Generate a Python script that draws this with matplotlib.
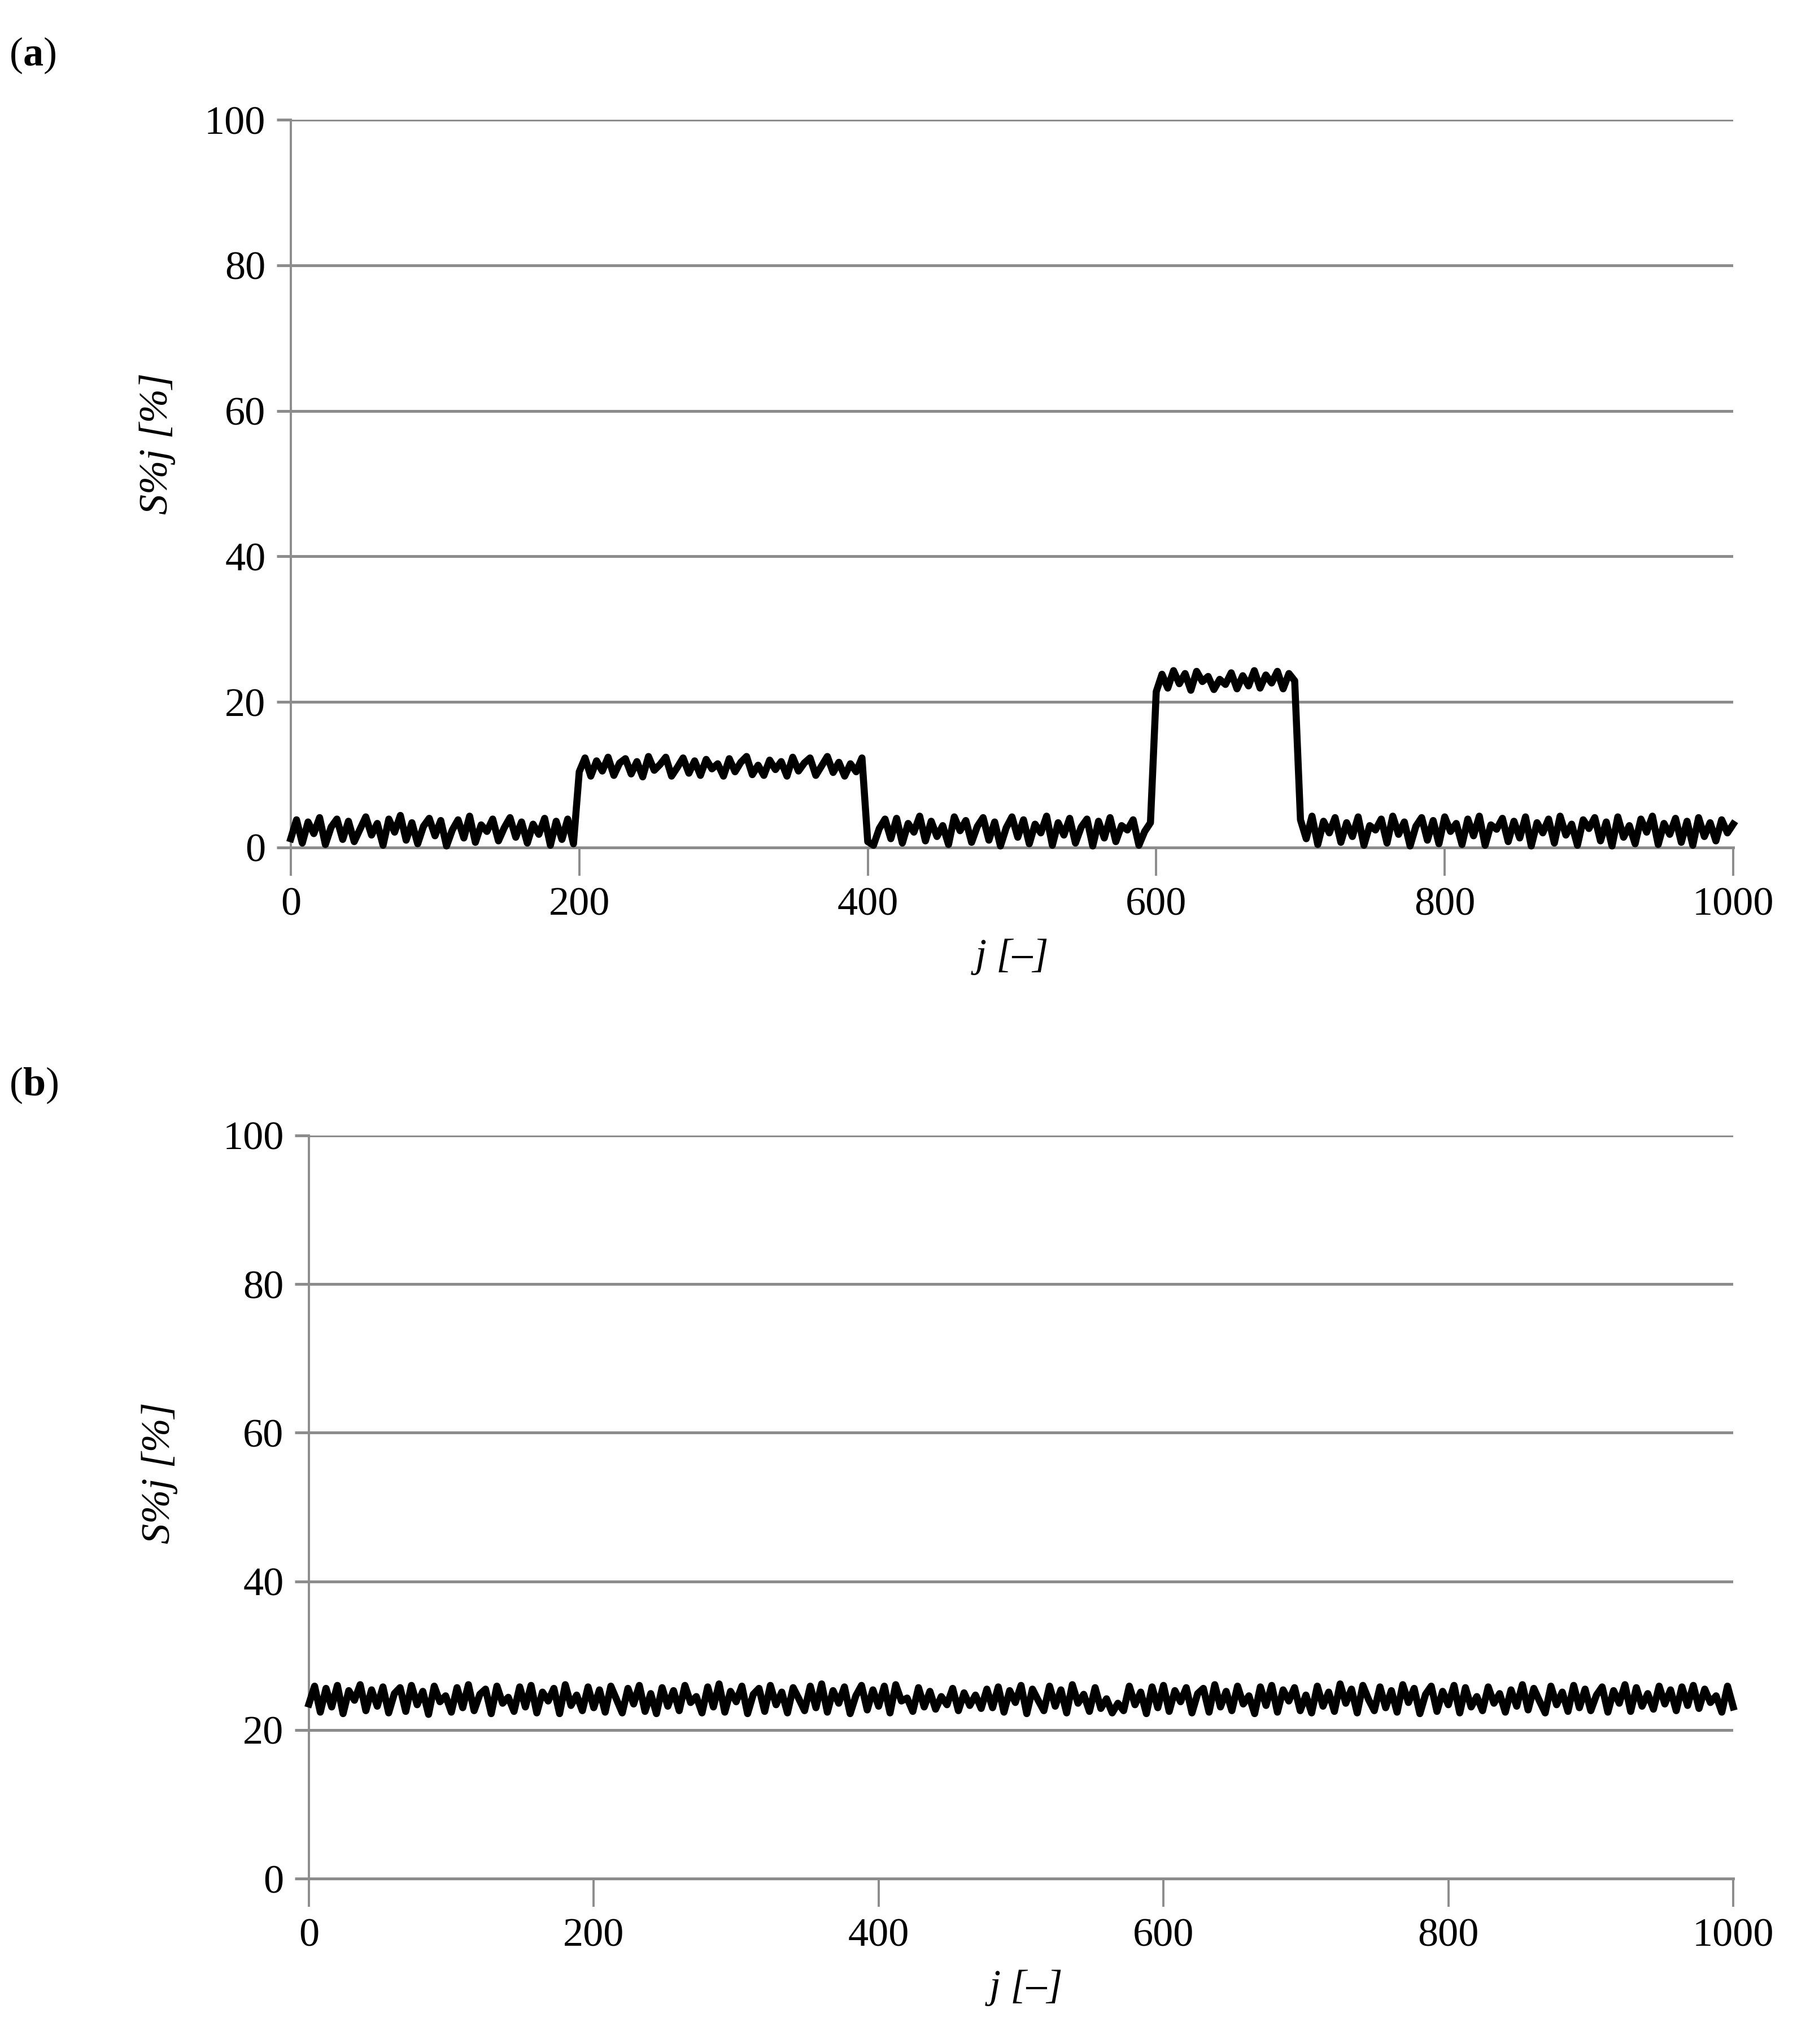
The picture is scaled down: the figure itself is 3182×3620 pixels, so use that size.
import numpy as np
import matplotlib.pyplot as plt

plt.rcParams['font.family'] = ['Liberation Serif', 'DejaVu Serif']
plt.rcParams['mathtext.fontset'] = 'custom'
plt.rcParams['mathtext.rm'] = 'Liberation Serif'
plt.rcParams['mathtext.bf'] = 'Liberation Serif:bold'

# j index, sampled every 4th step (0..1000)
j = np.arange(0, 1001, 4)

# panel (a): S%j with steps at 200-400 and 600-700
s_a_base1 = [1.2, 3.8, 0.6, 3.5, 1.9, 4.1, 0.4, 2.8, 3.9, 1.1,
             3.6, 0.8, 2.5, 4.2, 1.7, 3.3, 0.3, 3.9, 2.1, 4.4,
             1.0, 3.4, 0.5, 2.9, 4.0, 1.6, 3.7, 0.2, 2.4, 3.8,
             1.3, 4.3, 0.7, 3.1, 2.2, 3.9, 0.9, 2.7, 4.1, 1.4,
             3.5, 0.6, 3.2, 1.8, 4.0, 0.3, 3.6, 1.1, 3.9, 0.5]
s_a_step1 = [10.4, 12.3, 9.8, 11.9, 10.5, 12.4, 9.9, 11.6, 12.2, 10.1,
             11.8, 9.7, 12.5, 10.6, 11.4, 12.4, 9.8, 11.0, 12.3, 10.2,
             11.9, 9.9, 12.1, 10.8, 11.5, 9.8, 12.2, 10.4, 11.7, 12.5,
             10.0, 11.3, 9.9, 12.0, 10.7, 11.8, 9.8, 12.4, 10.5, 11.6,
             12.3, 9.9, 11.2, 12.5, 10.3, 11.7, 9.8, 11.5, 10.4, 12.3]
s_a_base2 = [0.8, 0.3, 2.6, 3.9, 1.2, 4.0, 0.6, 3.3, 2.1, 4.3,
             0.9, 3.6, 1.5, 3.0, 0.4, 4.2, 2.3, 3.7, 0.7, 2.9,
             4.1, 1.0, 3.5, 0.2, 2.7, 4.2, 1.4, 3.8, 0.5, 3.2,
             2.0, 4.3, 0.3, 3.4, 1.7, 4.0, 0.6, 2.8, 3.9, 0.2,
             3.6, 1.3, 4.1, 0.8, 3.0, 2.4, 3.8, 0.3, 2.2, 3.4]
s_a_step2 = [21.4, 23.8, 21.9, 24.3, 22.5, 23.9, 21.6, 24.2, 22.8, 23.5,
             21.7, 23.1, 22.4, 24.0, 21.8, 23.6, 22.2, 24.3, 21.9, 23.7,
             22.6, 24.2, 21.8, 23.9, 22.9]
s_a_base3 = [3.8, 1.2, 4.3, 0.4, 3.6, 2.0, 4.1, 0.7, 3.4, 1.5,
             4.2, 0.3, 3.0, 2.4, 3.9, 0.6, 4.3, 1.8, 3.5, 0.2,
             2.9, 4.1, 1.0, 3.7, 0.5, 4.2, 2.2, 3.3, 0.4, 3.9,
             1.6, 4.3, 0.3, 3.1, 2.5, 4.0, 0.8, 3.6, 1.3, 4.2,
             0.2, 3.4, 2.0, 3.9, 0.6, 4.3, 1.7, 3.2, 0.3, 3.8,
             2.6, 4.1, 0.9, 3.5, 0.2, 4.2, 1.4, 3.0, 0.5, 3.9,
             2.1, 4.3, 0.4, 3.3, 1.8, 4.0, 0.7, 3.6, 0.3, 4.1,
             1.5, 3.4, 0.9, 3.8, 2.0, 3.2]
s_a = s_a_base1 + s_a_step1 + s_a_base2 + s_a_step2 + s_a_base3

# panel (b): S%j around 24 %
s_b = [23.5, 25.9, 22.4, 25.6, 23.1, 26.0, 22.2, 25.3, 24.0, 26.1,
       22.6, 25.4, 23.2, 25.8, 22.3, 24.9, 25.7, 22.5, 26.0, 23.4,
       25.2, 22.1, 25.9, 23.8, 24.6, 22.4, 25.7, 23.0, 26.1, 22.6,
       24.8, 25.5, 22.2, 25.9, 23.6, 24.4, 22.5, 25.8, 23.1, 26.0,
       22.3, 25.1, 23.9, 25.6, 22.2, 26.1, 23.3, 24.7, 22.6, 25.8,
       23.0, 25.4, 22.4, 25.9, 24.1, 22.3, 25.6, 23.5, 26.0, 22.5,
       24.9, 22.2, 25.7, 23.2, 25.3, 22.6, 26.0, 23.7, 24.5, 22.3,
       25.8, 23.1, 26.2, 22.4, 25.2, 23.8, 25.9, 22.2, 24.8, 25.6,
       22.5, 26.0, 23.4, 25.1, 22.3, 25.7, 24.2, 22.6, 25.9, 23.0,
       26.2, 22.4, 25.3, 23.6, 25.8, 22.2, 24.6, 26.0, 22.7, 25.4,
       23.2, 25.9, 22.3, 26.1, 23.9, 24.3, 22.5, 25.7, 23.1, 25.2,
       22.8, 24.5, 23.4, 25.6, 22.6, 25.0, 23.3, 24.7, 22.9, 25.5,
       23.0, 25.8, 22.4, 25.3, 23.7, 26.0, 22.2, 25.5, 24.0, 22.6,
       25.9, 23.2, 25.4, 22.3, 26.1, 23.6, 24.8, 22.5, 25.7, 22.9,
       24.2, 22.3, 23.6, 22.6, 25.9, 23.4, 25.1, 22.2, 25.8, 23.0,
       26.0, 22.5, 25.3, 23.8, 25.7, 22.3, 24.9, 25.6, 22.4, 26.1,
       23.1, 25.2, 22.6, 25.9, 23.5, 24.6, 22.2, 25.8, 23.3, 26.0,
       22.4, 25.4, 23.9, 25.7, 22.6, 24.7, 22.3, 25.9, 23.2, 25.1,
       22.5, 26.2, 23.6, 25.5, 22.3, 26.0, 24.1, 22.6, 25.8, 23.0,
       25.3, 22.4, 26.1, 23.7, 25.6, 22.2, 24.8, 25.9, 22.5, 25.2,
       23.4, 26.0, 22.3, 25.7, 23.1, 24.5, 22.6, 25.8, 23.6, 24.9,
       22.4, 25.4, 23.2, 26.1, 22.7, 25.6, 23.9, 22.3, 25.9, 23.4,
       25.1, 22.5, 26.0, 23.0, 25.5, 22.6, 24.7, 25.8, 22.4, 25.3,
       23.6, 26.1, 22.5, 25.7, 23.2, 24.9, 22.8, 25.9, 23.5, 25.4,
       22.6, 25.8, 23.3, 26.0, 22.9, 25.5, 23.7, 24.6, 22.4, 25.9,
       23.1]

y_ticks = [0, 20, 40, 60, 80, 100]
x_ticks = [0, 200, 400, 600, 800, 1000]

GRAY = '#8c8c8c'
FS = 52

fig = plt.figure(figsize=(31.82, 36.20), dpi=100)
ax_a = fig.add_axes([0.1618, 0.5854, 0.8027, 0.3560])
ax_b = fig.add_axes([0.1719, 0.0809, 0.7926, 0.3636])


def style_axes(ax, xlab_pos, ylab_pos):
    ax.set_xlim(0, 1000)
    ax.set_ylim(0, 100)
    ax.set_xticks(x_ticks)
    ax.set_yticks(y_ticks)
    ax.set_xticklabels([str(t) for t in x_ticks])
    ax.set_yticklabels([str(t) for t in y_ticks])
    for side in ['top', 'right']:
        ax.spines[side].set_visible(False)
    ax.spines['left'].set_color(GRAY)
    ax.spines['left'].set_linewidth(2.8)
    ax.spines['bottom'].set_color(GRAY)
    ax.spines['bottom'].set_linewidth(3.6)
    ax.yaxis.grid(True, color=GRAY, linewidth=3.6)
    ax.set_axisbelow(True)
    ax.tick_params(axis='y', length=18, width=3.6, color=GRAY, pad=14,
                   labelsize=FS)
    ax.tick_params(axis='x', length=36, width=2.8, color=GRAY, pad=14,
                   labelsize=FS)
    ax.set_xlabel('j [–]', fontsize=FS, fontstyle='italic')
    ax.set_ylabel('S%j [%]', fontsize=FS, fontstyle='italic')
    ax.xaxis.set_label_coords(*xlab_pos)
    ax.yaxis.set_label_coords(*ylab_pos)


ax_a.plot(j, s_a, color='black', linewidth=9, solid_joinstyle='round',
          zorder=3, clip_on=False)
style_axes(ax_a, (0.5, -0.125), (-0.08, 0.555))

ax_b.plot(j, s_b, color='black', linewidth=9, solid_joinstyle='round',
          zorder=3, clip_on=False)
style_axes(ax_b, (0.5036, -0.122), (-0.092, 0.546))

# panel letters
fig.text(0.005, 0.973, r'($\mathbf{a}$)', fontsize=FS, va='center', ha='left')
fig.text(0.005, 0.469, r'($\mathbf{b}$)', fontsize=FS, va='center', ha='left')

fig.savefig('out.png', dpi=100, facecolor='white')
